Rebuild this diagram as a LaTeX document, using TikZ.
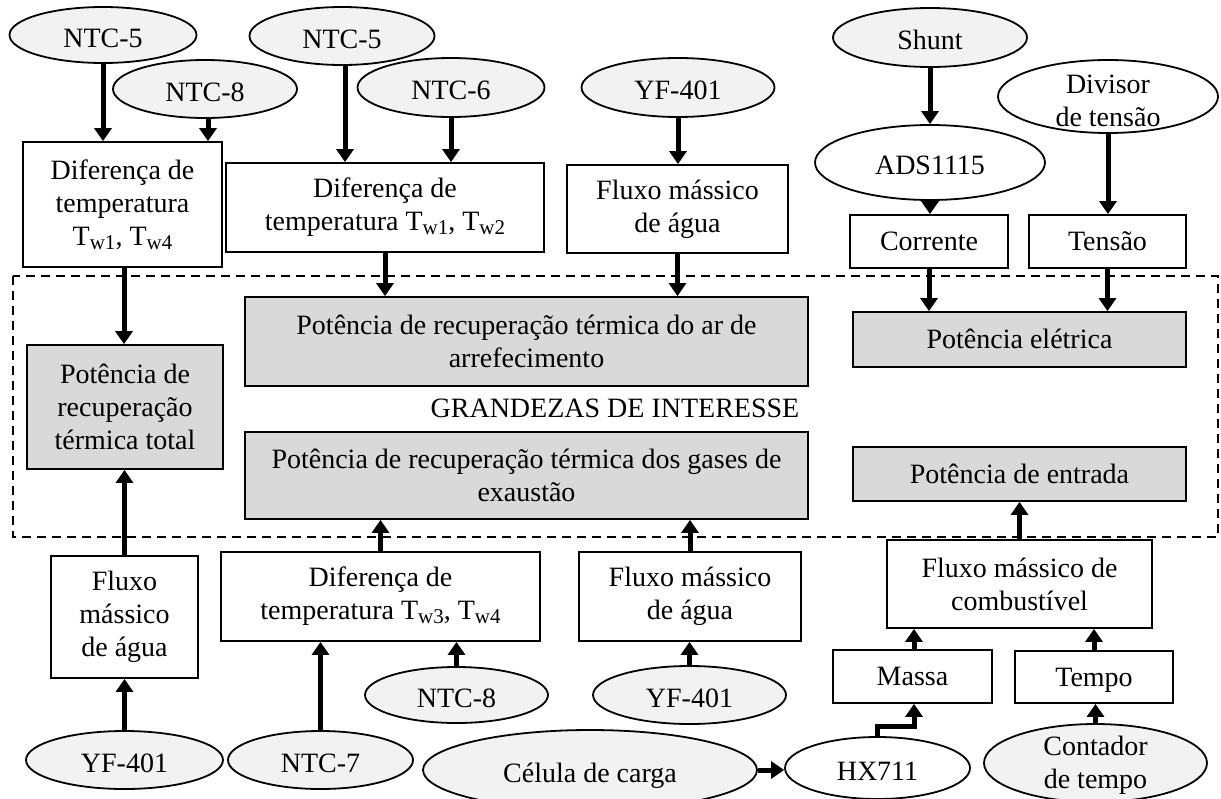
\documentclass[tikz,border=0pt]{standalone}
\usepackage{fontspec}
\setmainfont{Liberation Serif}
\usetikzlibrary{shapes.geometric,arrows.meta}
\definecolor{sensorfill}{HTML}{F2F2F2}
\definecolor{resultfill}{HTML}{D9D9D9}
% temperature symbol with its index
\newcommand{\tw}[1]{T\raisebox{-0.3ex}{\fontsize{21}{21}\selectfont w#1}}
\tikzset{
  txt/.style={font=\fontsize{28}{33}\selectfont, align=center, inner sep=0pt},
  oneline/.style={txt, text height=24.5pt, text depth=6pt},
  ellabel/.style={txt, text height=30pt, text depth=6pt},
  box/.style={txt, draw, line width=1.8pt, fill=white},
  result/.style={box, fill=resultfill},
  sensor/.style={ellipse, draw, line width=1.8pt, fill=sensorfill, inner sep=0pt},
  module/.style={sensor, fill=white},
  arr/.style={line width=5pt, -{Triangle[width=17pt,length=13pt]}},
  group/.style={dashed, dash pattern=on 9pt off 6pt, line width=1.7pt}
}
\begin{document}
\begin{tikzpicture}[x=1pt,y=-1pt]
\useasboundingbox (0,0) rectangle (1221,798);

% area of the quantities of interest
\draw[group] (13,276) rectangle (1218,537);
\node[oneline] (gi) at (615,408) {GRANDEZAS DE INTERESSE};

% results
\node[result, minimum width=196pt, minimum height=124pt] (g1) at (125,407)
  {Potência de\\recuperação\\térmica total};
\node[result, minimum width=563pt, minimum height=89pt] (g2) at (526.5,341.5)
  {Potência de recuperação térmica do ar de\\arrefecimento};
\node[result, minimum width=563pt, minimum height=87pt] (g3) at (526.5,475.5)
  {Potência de recuperação térmica dos gases de\\exaustão};
\node[result, oneline, minimum width=333pt, minimum height=55pt] (g4) at (1019.5,339.5)
  {Potência elétrica};
\node[result, oneline, minimum width=333pt, minimum height=54pt] (g5) at (1019.5,474)
  {Potência de entrada};

% upper measurements
\node[box, minimum width=199pt, minimum height=125pt] (b1) at (122.5,204.5)
  {Diferença de\\temperatura\\\tw{1}, \tw{4}};
\node[box, minimum width=318pt, minimum height=89pt] (b2) at (385,207.5)
  {Diferença de\\temperatura \tw{1}, \tw{2}};
\node[box, minimum width=221pt, minimum height=88pt] (b3) at (677.5,209)
  {Fluxo mássico\\de água};
\node[box, oneline, minimum width=158pt, minimum height=53pt] (b4) at (929,241.5) {Corrente};
\node[box, oneline, minimum width=157pt, minimum height=53pt] (b5) at (1107.5,241.5) {Tensão};

% lower measurements
\node[box, minimum width=147pt, minimum height=122pt] (b6) at (124.5,617)
  {Fluxo\\mássico\\de água};
\node[box, minimum width=319pt, minimum height=89pt] (b7) at (380.5,596.5)
  {Diferença de\\temperatura \tw{3}, \tw{4}};
\node[box, minimum width=222pt, minimum height=89pt] (b8) at (690,596.5)
  {Fluxo mássico\\de água};
\node[box, minimum width=265pt, minimum height=88pt] (b9) at (1019.5,584)
  {Fluxo mássico de\\combustível};
\node[box, oneline, minimum width=159pt, minimum height=53pt] (b10) at (912.5,676.5) {Massa};
\node[box, oneline, minimum width=158pt, minimum height=52pt] (b11) at (1094,677) {Tempo};

% upper sensors
\node[sensor, minimum width=187pt, minimum height=56pt, label={[ellabel]center:NTC-5}] (e1) at (103,35) {};
\node[sensor, minimum width=184pt, minimum height=58pt, label={[ellabel]center:NTC-8}] (e2) at (205,89) {};
\node[sensor, minimum width=185pt, minimum height=58pt, label={[ellabel]center:NTC-5}] (e3) at (342,36) {};
\node[sensor, minimum width=187pt, minimum height=59pt, label={[ellabel]center:NTC-6}] (e4) at (451,87.5) {};
\node[sensor, minimum width=193pt, minimum height=59pt, label={[ellabel]center:YF-401}] (e5) at (678,87.5) {};
\node[sensor, minimum width=194pt, minimum height=59pt, label={[ellabel]center:Shunt}] (e6) at (930,37.5) {};
\node[module, minimum width=230pt, minimum height=75pt, label={[ellabel]center:ADS1115}] (e7) at (930,162.5) {};
\node[module, minimum width=220pt, minimum height=73pt, label={[txt, yshift=-4pt]center:Divisor\\de tensão}] (e8) at (1108,96.5) {};

% lower sensors
\node[sensor, minimum width=197pt, minimum height=58pt, label={[ellabel]center:YF-401}] (e9) at (124.5,760) {};
\node[sensor, minimum width=185pt, minimum height=58pt, label={[ellabel]center:NTC-7}] (e10) at (320.5,760) {};
\node[sensor, minimum width=183pt, minimum height=56pt, label={[ellabel]center:NTC-8}] (e11) at (456.5,695) {};
\node[sensor, minimum width=193pt, minimum height=58pt, label={[ellabel]center:YF-401}] (e12) at (689.5,695) {};
\node[sensor, minimum width=334pt, minimum height=80pt, label={[ellabel]center:Célula de carga}] (e13) at (590,770) {};
\node[module, minimum width=185pt, minimum height=62pt, label={[ellabel]center:HX711}] (e14) at (877.5,768) {};
\node[sensor, minimum width=223pt, minimum height=78pt, label={[txt, yshift=-2pt]center:Contador\\de tempo}] (e15) at (1095.5,763) {};

% connectors, top half
\draw[arr] (e1.south) -- (e1.south |- b1.north);
\draw[arr] ([xshift=3pt]e2.south) -- ([xshift=3pt]e2.south |- b1.north);
\draw[arr] ([xshift=3pt]e3.south) -- ([xshift=3pt]e3.south |- b2.north);
\draw[arr] (e4.south) -- (e4.south |- b2.north);
\draw[arr] (e5.south) -- (e5.south |- b3.north);
\draw[arr] (e6.south) -- (e7.north);
\draw[arr] (e7.south) -- (e7.south |- b4.north);
\draw[arr] (e8.south) -- (e8.south |- b5.north);
\draw[arr] ([xshift=1.5pt]b1.south) -- ([xshift=1.5pt]b1.south |- g1.north);
\draw[arr] (b2.south) -- (b2.south |- g2.north);
\draw[arr] (b3.south) -- (b3.south |- g2.north);
\draw[arr] (b4.south) -- (b4.south |- g4.north);
\draw[arr] (b5.south) -- (b5.south |- g4.north);

% connectors, bottom half
\draw[arr] (b6.north) -- (b6.north |- g1.south);
\draw[arr] (b7.north) -- (b7.north |- g3.south);
\draw[arr] (b8.north) -- (b8.north |- g3.south);
\draw[arr] (b9.north) -- (b9.north |- g5.south);
\draw[arr] (e9.north) -- (e9.north |- b6.south);
\draw[arr] (e10.north) -- (e10.north |- b7.south);
\draw[arr] (e11.north) -- (e11.north |- b7.south);
\draw[arr] (e12.north) -- (e12.north |- b8.south);
\draw[arr] ([xshift=1.5pt]b10.north) -- ([xshift=1.5pt]b10.north |- b9.south);
\draw[arr] (b11.north) -- (b11.north |- b9.south);
\draw[arr] (e15.north) -- (e15.north |- b11.south);
\draw[arr] (e13.east) -- (e13.east -| e14.west);
\draw[arr] (e14.north) -- ++(0,-10) -| ([xshift=1.5pt]b10.south);
\end{tikzpicture}
\end{document}
